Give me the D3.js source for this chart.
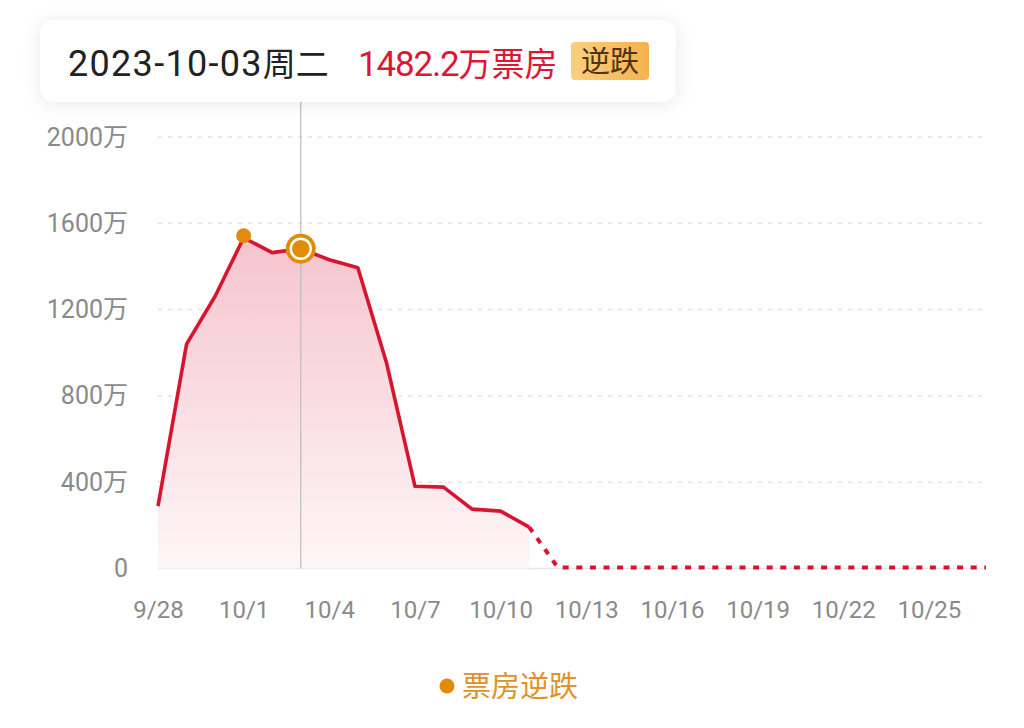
<!DOCTYPE html>
<html>
<head>
<meta charset="utf-8">
<script src="https://cdn.jsdelivr.net/npm/d3@7"></script>
<style>
  body { margin: 0; background: #fff; }
  svg { display: block; font-family: Roboto, "Noto Sans CJK SC", sans-serif; }
</style>
</head>
<body>
<div class="panel"></div>
<script>
const width = 1024;
const height = 728;
const margins = {top: 137, right: 38, bottom: 159, left: 158};

// days shown on the x axis
const dates = ["9/28", "9/29", "9/30", "10/1", "10/2", "10/3", "10/4", "10/5", "10/6", "10/7",
  "10/8", "10/9", "10/10", "10/11", "10/12", "10/13", "10/14", "10/15", "10/16", "10/17",
  "10/18", "10/19", "10/20", "10/21", "10/22", "10/23", "10/24", "10/25", "10/26", "10/27"];
// actual box office, 万
const actualDates = ["9/28", "9/29", "9/30", "10/1", "10/2", "10/3", "10/4", "10/5", "10/6", "10/7",
  "10/8", "10/9", "10/10", "10/11"];
const actualValues = [289, 1040, 1262, 1533, 1464, 1482.2, 1431, 1394, 955, 381, 377, 275, 266, 192];
// forecast part (dotted)
const forecastDates = ["10/11", "10/12", "10/13", "10/14", "10/15", "10/16", "10/17", "10/18", "10/19",
  "10/20", "10/21", "10/22", "10/23", "10/24", "10/25", "10/26", "10/27"];
const forecastValues = [192, 5, 5, 5, 5, 5, 5, 5, 5, 5, 5, 5, 5, 5, 5, 5, 5];
// days marked as 逆跌
const riseDates = ["10/1", "10/3"];
const xTicks = ["9/28", "10/1", "10/4", "10/7", "10/10", "10/13", "10/16", "10/19", "10/22", "10/25"];
const yTicks = [0, 400, 800, 1200, 1600, 2000];
const selected = "10/3";

const red = "#d8152f";
const orange = "#e28a0a";

const svg = d3.select(".panel")
  .append("svg")
  .attr("width", width)
  .attr("height", height);

const defs = svg.append("defs");
const grad = defs.append("linearGradient")
  .attr("id", "fill");
grad.append("stop").attr("offset", "0%").attr("stop-color", "#f5c4ce");
grad.append("stop").attr("offset", "55%").attr("stop-color", "#fae0e5");
grad.append("stop").attr("offset", "100%").attr("stop-color", "#fef6f7");

const badgeGrad = defs.append("linearGradient")
  .attr("id", "badge")
  .attr("x1", 0).attr("x2", 1).attr("y1", 0).attr("y2", 0);
badgeGrad.append("stop").attr("offset", "0%").attr("stop-color", "#fbcf80");
badgeGrad.append("stop").attr("offset", "100%").attr("stop-color", "#f4b24e");

const shadow = defs.append("filter")
  .attr("id", "shadow")
  .attr("x", "-20%").attr("y", "-60%").attr("width", "140%").attr("height", "220%");
shadow.append("feDropShadow")
  .attr("dx", 0).attr("dy", 2)
  .attr("stdDeviation", 9)
  .attr("flood-color", "#000")
  .attr("flood-opacity", 0.09);

const x = d3.scalePoint()
  .domain(dates)
  .range([margins.left, width - margins.right]);

const y = d3.scaleLinear()
  .domain([0, 2000])
  .range([height - margins.bottom - 0.5, margins.top]);

// y axis: dashed grid + labels
const yAxis = d3.axisLeft(y)
  .tickValues(yTicks)
  .tickSize(0)
  .tickPadding(30)
  .tickFormat(d => d === 0 ? "0" : d + "万");

const yg = svg.append("g")
  .attr("transform", `translate(${margins.left}, 0)`)
  .call(yAxis);
yg.select(".domain").remove();
yg.selectAll("text")
  .attr("fill", "#8a8a8a")
  .attr("font-size", 25)
  .attr("font-family", "Roboto, 'Noto Sans CJK SC', sans-serif");

svg.append("g")
  .selectAll("line")
  .data(yTicks)
  .enter()
  .append("line")
  .attr("x1", margins.left)
  .attr("x2", width - margins.right - 3)
  .attr("y1", d => y(d))
  .attr("y2", d => y(d))
  .attr("stroke", d => d === 0 ? "#e6e6e6" : "#e3e3e3")
  .attr("stroke-width", 1.5)
  .attr("stroke-dasharray", d => d === 0 ? null : "4 6");

// x axis labels
const xAxis = d3.axisBottom(x)
  .tickValues(xTicks)
  .tickSize(0)
  .tickPadding(32);
const xg = svg.append("g")
  .attr("transform", `translate(0, ${y(0)})`)
  .call(xAxis);
xg.select(".domain").remove();
xg.selectAll("text")
  .attr("fill", "#8a8a8a")
  .attr("font-size", 24)
  .attr("font-family", "Roboto, 'Noto Sans CJK SC', sans-serif");

const actual = actualDates.map((d, i) => ({date: d, value: actualValues[i]}));
const forecast = forecastDates.map((d, i) => ({date: d, value: forecastValues[i]}));

// area under the actual line
const area = d3.area()
  .x(d => x(d.date))
  .y0(y(0))
  .y1(d => y(d.value));
grad.attr("gradientUnits", "userSpaceOnUse")
  .attr("y1", y(d3.max(actualValues)))
  .attr("y2", y(0))
  .attr("x1", 0).attr("x2", 0);
svg.append("path")
  .datum(actual)
  .attr("d", area)
  .attr("fill", "url(#fill)");

// crosshair for the selected day
svg.append("line")
  .attr("x1", x(selected))
  .attr("x2", x(selected))
  .attr("y1", 100)
  .attr("y2", y(0))
  .attr("stroke", "#bdbdbd")
  .attr("stroke-width", 1.2);

const line = d3.line()
  .x(d => x(d.date))
  .y(d => y(d.value));

svg.append("path")
  .datum(forecast)
  .attr("d", line)
  .attr("fill", "none")
  .attr("stroke", red)
  .attr("stroke-width", 4)
  .attr("stroke-dasharray", "6 7.6");

svg.append("path")
  .datum(actual)
  .attr("d", line)
  .attr("fill", "none")
  .attr("stroke", red)
  .attr("stroke-width", 3.6)
  .attr("stroke-linejoin", "round");

// 逆跌 markers
const rises = actual.filter(d => riseDates.includes(d.date));
svg.append("g")
  .selectAll("circle")
  .data(rises.filter(d => d.date !== selected))
  .enter()
  .append("circle")
  .attr("cx", d => x(d.date))
  .attr("cy", d => y(d.value) - 2)
  .attr("r", 7.5)
  .attr("fill", orange);

const sel = actual.find(d => d.date === selected);
svg.append("circle")
  .attr("cx", x(sel.date))
  .attr("cy", y(sel.value))
  .attr("r", 15)
  .attr("fill", orange);
svg.append("circle")
  .attr("cx", x(sel.date))
  .attr("cy", y(sel.value))
  .attr("r", 10)
  .attr("fill", orange)
  .attr("stroke", "#fff")
  .attr("stroke-width", 2.5);

// tooltip
const tip = svg.append("g");
tip.append("rect")
  .attr("x", 40)
  .attr("y", 20)
  .attr("width", 636)
  .attr("height", 82)
  .attr("rx", 14)
  .attr("fill", "#fff")
  .attr("filter", "url(#shadow)");

const dateText = tip.append("text")
  .attr("x", 68)
  .attr("y", 76)
  .attr("font-size", 36)
  .attr("fill", "#222");
dateText.append("tspan")
  .attr("letter-spacing", 1.3)
  .text("2023-10-03");
dateText.append("tspan")
  .attr("font-family", "'Noto Sans CJK SC', sans-serif")
  .attr("font-size", 33)
  .text("周二");

const valueText = tip.append("text")
  .attr("x", 358)
  .attr("y", 76)
  .attr("fill", "#dd1733")
  .attr("font-size", 35);
valueText.append("tspan")
  .attr("letter-spacing", -1.2)
  .text(d3.format(".1f")(sel.value));
valueText.append("tspan")
  .attr("font-family", "'Noto Sans CJK SC', sans-serif")
  .attr("font-size", 33)
  .text("万票房");

tip.append("rect")
  .attr("x", 571)
  .attr("y", 42)
  .attr("width", 78)
  .attr("height", 38)
  .attr("rx", 4)
  .attr("fill", "url(#badge)");
tip.append("text")
  .attr("x", 610)
  .attr("y", 72)
  .attr("text-anchor", "middle")
  .attr("font-family", "'Noto Sans CJK SC', sans-serif")
  .attr("font-size", 29)
  .attr("fill", "#4f3410")
  .text("逆跌");

// legend
const legend = svg.append("g");
legend.append("circle")
  .attr("cx", 447)
  .attr("cy", 686)
  .attr("r", 7.5)
  .attr("fill", orange);
legend.append("text")
  .attr("x", 462)
  .attr("y", 697)
  .attr("font-family", "'Noto Sans CJK SC', sans-serif")
  .attr("font-size", 29)
  .attr("fill", "#e0922a")
  .text("票房逆跌");
</script>
</body>
</html>
